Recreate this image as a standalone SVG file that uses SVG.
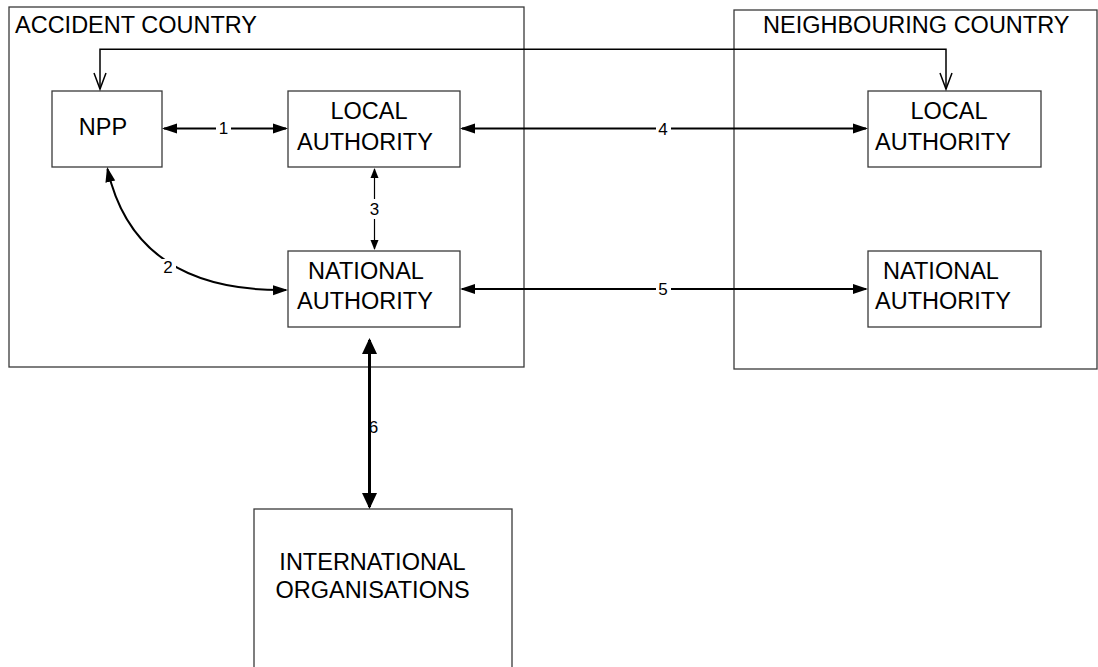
<svg xmlns="http://www.w3.org/2000/svg" width="1098" height="667" viewBox="0 0 1098 667">
  <style>
    .box { fill: #ffffff; stroke: #3a3a3a; stroke-width: 1.3; }
    .frame { fill: none; stroke: #3a3a3a; stroke-width: 1.3; }
    .t { font-family: "Liberation Sans", Arial, sans-serif; font-size: 23.5px; fill: #000; }
    .c { text-anchor: middle; }
    .num { font-family: "Liberation Sans", Arial, sans-serif; font-size: 17px; fill: #000; text-anchor: middle; }
    .ln { fill: none; stroke: #000; }
    .gap { fill: #ffffff; stroke: none; }
  </style>
  <defs>
    <marker id="ah" markerUnits="userSpaceOnUse" markerWidth="16" markerHeight="11" refX="13" refY="5" orient="auto-start-reverse" viewBox="0 0 16 10">
      <path d="M0,0 L15,5 L0,10 z" fill="#000"/>
    </marker>
    <marker id="ahs" markerUnits="userSpaceOnUse" markerWidth="11" markerHeight="9" refX="9" refY="4" orient="auto-start-reverse" viewBox="0 0 11 8">
      <path d="M0,0 L10,4 L0,8 z" fill="#000"/>
    </marker>
    <marker id="ahl" markerUnits="userSpaceOnUse" markerWidth="17" markerHeight="16" refX="14" refY="7.5" orient="auto-start-reverse" viewBox="0 0 17 15">
      <path d="M0,0 L16,7.5 L0,15 z" fill="#000"/>
    </marker>
    <marker id="open" markerUnits="userSpaceOnUse" markerWidth="18" markerHeight="14" refX="16" refY="6" orient="auto-start-reverse" viewBox="-1 -1 18 14" overflow="visible">
      <path d="M0,0 L16,6 L0,12" fill="none" stroke="#000" stroke-width="1.5"/>
    </marker>
  </defs>

  <rect width="1098" height="667" fill="#ffffff"/>

  <g id="accident-country">
    <rect class="frame" x="9" y="7" width="515" height="360"/>
    <text class="t" x="15" y="33">ACCIDENT COUNTRY</text>
  </g>
  <g id="neighbouring-country">
    <rect class="frame" x="734" y="10" width="363" height="359"/>
    <text class="t" x="763" y="33">NEIGHBOURING COUNTRY</text>
  </g>

  <g id="npp">
    <rect class="box" x="52" y="91" width="110" height="76"/>
    <text class="t c" x="103" y="135">NPP</text>
  </g>
  <g id="local-authority-accident">
    <rect class="box" x="288" y="91" width="172" height="76"/>
    <text class="t c" x="369" y="119">LOCAL</text>
    <text class="t c" x="365" y="149.5">AUTHORITY</text>
  </g>
  <g id="national-authority-accident">
    <rect class="box" x="288" y="251" width="172" height="76"/>
    <text class="t c" x="366" y="279">NATIONAL</text>
    <text class="t c" x="365" y="309">AUTHORITY</text>
  </g>
  <g id="local-authority-neighbour">
    <rect class="box" x="868" y="91" width="173" height="76"/>
    <text class="t c" x="949" y="119">LOCAL</text>
    <text class="t c" x="943" y="149.5">AUTHORITY</text>
  </g>
  <g id="national-authority-neighbour">
    <rect class="box" x="868" y="251" width="173" height="76"/>
    <text class="t c" x="941" y="279">NATIONAL</text>
    <text class="t c" x="943" y="309">AUTHORITY</text>
  </g>
  <g id="international-organisations">
    <rect class="box" x="254" y="509" width="258" height="200"/>
    <text class="t c" x="372.5" y="570">INTERNATIONAL</text>
    <text class="t c" x="372.5" y="598">ORGANISATIONS</text>
  </g>

  <g id="connectors">
    <!-- top link NPP <-> neighbour local authority -->
    <path class="ln" d="M100,89 V49.3 H946 V89" stroke-width="1.5" marker-start="url(#open)" marker-end="url(#open)"/>
    <!-- 1 -->
    <path class="ln" d="M164,128.5 H286" stroke-width="2" marker-start="url(#ah)" marker-end="url(#ah)"/>
    <rect class="gap" x="216" y="120" width="15" height="17"/>
    <text class="num" x="223.5" y="134">1</text>
    <!-- 2 -->
    <path class="ln" d="M107.5,169 Q135,292 286,290" stroke-width="2" marker-start="url(#ah)" marker-end="url(#ah)"/>
    <rect class="gap" x="161" y="259" width="15" height="17"/>
    <text class="num" x="168" y="273">2</text>
    <!-- 3 -->
    <path class="ln" d="M374.5,169 V249" stroke-width="1.2" marker-start="url(#ahs)" marker-end="url(#ahs)"/>
    <rect class="gap" x="367" y="199" width="15" height="20"/>
    <text class="num" x="374.5" y="215">3</text>
    <!-- 4 -->
    <path class="ln" d="M462,128.5 H866" stroke-width="2.2" marker-start="url(#ah)" marker-end="url(#ah)"/>
    <rect class="gap" x="656" y="120" width="15" height="17"/>
    <text class="num" x="663" y="134.5">4</text>
    <!-- 5 -->
    <path class="ln" d="M462,289 H866" stroke-width="2.2" marker-start="url(#ah)" marker-end="url(#ah)"/>
    <rect class="gap" x="656" y="280" width="15" height="17"/>
    <text class="num" x="663" y="295">5</text>
    <!-- 6 -->
    <text class="num" x="373.5" y="433">6</text>
    <path class="ln" d="M369.5,340 V507" stroke-width="3" marker-start="url(#ahl)" marker-end="url(#ahl)"/>
  </g>
</svg>
